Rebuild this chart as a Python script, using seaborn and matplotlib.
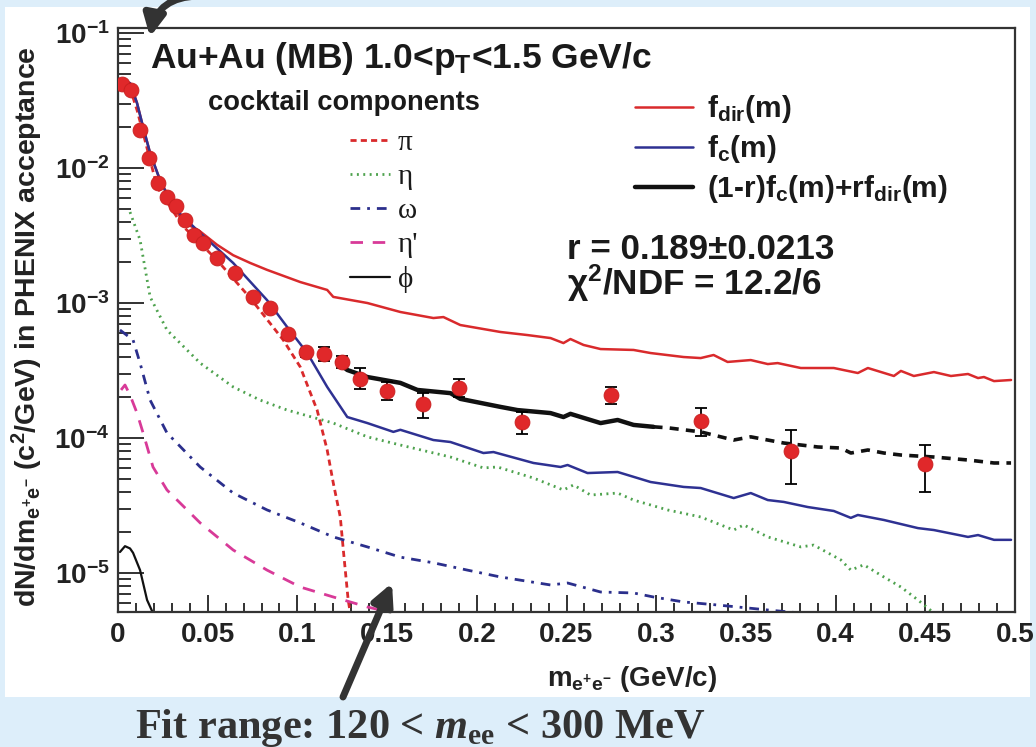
import numpy as np
import pandas as pd
import matplotlib
matplotlib.use("Agg")
import matplotlib.pyplot as plt
import seaborn as sns
from matplotlib.patches import Rectangle, FancyArrowPatch
from matplotlib.ticker import MultipleLocator, LogLocator, NullFormatter

# ---------------- data ----------------
data_m = [0.0025, 0.0075, 0.0125, 0.0175, 0.0225, 0.0275, 0.0325, 0.0375, 0.0425, 0.0475,
          0.055, 0.065, 0.075, 0.085, 0.095, 0.105, 0.115, 0.125, 0.135, 0.15,
          0.17, 0.19, 0.225, 0.275, 0.325, 0.375, 0.45]
data_y = [0.042, 0.038, 0.019, 0.0118, 0.0078, 0.0061, 0.0052, 0.0041, 0.0032, 0.0028,
          0.00216, 0.00167, 0.00111, 0.00092, 0.00059, 0.00043, 0.00042, 0.000365, 0.000274, 0.000223,
          0.000179, 0.000234, 0.000132, 0.000208, 0.000134, 0.000080, 0.000064]
data_err_lo = [0.0008, 0.0007, 0.0004, 0.00024, 0.00016, 0.00012, 0.0001, 0.00008, 0.00007, 0.00006,
               0.00005, 0.00004, 0.00003, 0.000025, 0.00002, 0.00003, 0.00005, 0.000035, 0.000043, 0.000032,
               0.000039, 0.000034, 0.000025, 0.00003, 0.00003, 0.000034, 0.000024]
data_err_hi = [0.0008, 0.0007, 0.0004, 0.00024, 0.00016, 0.00012, 0.0001, 0.00008, 0.00007, 0.00006,
               0.00005, 0.00004, 0.00003, 0.000025, 0.00002, 0.00003, 0.00005, 0.00004, 0.000056, 0.000038,
               0.000037, 0.000039, 0.000024, 0.000031, 0.000033, 0.000035, 0.000025]

fdir_m = [0.0028, 0.0067, 0.0106, 0.0140, 0.0179, 0.0234, 0.0307, 0.0363, 0.0458, 0.0552,
          0.0642, 0.0737, 0.0831, 0.1016, 0.1166, 0.1200, 0.1390, 0.1574, 0.1758, 0.1814,
          0.1908, 0.2132, 0.2282, 0.2411, 0.2483, 0.2522, 0.2595, 0.2690, 0.2874, 0.2969,
          0.3153, 0.3248, 0.3320, 0.3398, 0.3527, 0.3622, 0.3677, 0.3806, 0.3990, 0.4124,
          0.4180, 0.4325, 0.4364, 0.4436, 0.4548, 0.4643, 0.4738, 0.4794, 0.4827, 0.4883, 0.4978]
fdir_y = [0.0434, 0.0426, 0.0303, 0.0201, 0.0129, 0.00815, 0.0053, 0.0040, 0.00339, 0.00270,
          0.00226, 0.00198, 0.00176, 0.00143, 0.00125, 0.00111, 0.00100, 0.000858, 0.000774, 0.000787,
          0.000687, 0.000610, 0.000579, 0.000550, 0.000505, 0.000541, 0.000489, 0.000456, 0.000449, 0.000426,
          0.000398, 0.000391, 0.000412, 0.000366, 0.000378, 0.000353, 0.000359, 0.000330, 0.000330, 0.000303,
          0.000330, 0.000288, 0.000314, 0.000288, 0.000308, 0.000288, 0.000298, 0.000278, 0.000283, 0.000264, 0.000269]

fc_m = [0.0028, 0.0067, 0.0106, 0.0140, 0.0179, 0.0234, 0.0307, 0.0458, 0.0642, 0.0831,
        0.0943, 0.1055, 0.1166, 0.1278, 0.1390, 0.1535, 0.1574, 0.1758, 0.1853, 0.2037,
        0.2093, 0.2316, 0.2467, 0.2506, 0.2617, 0.2785, 0.2969, 0.3153, 0.3248, 0.3432,
        0.3527, 0.3622, 0.3711, 0.3845, 0.3990, 0.4085, 0.4124, 0.4269, 0.4459, 0.4548,
        0.4738, 0.4794, 0.4883, 0.4978]
fc_y = [0.0434, 0.0426, 0.0303, 0.0201, 0.0129, 0.00815, 0.00514, 0.00330, 0.00198, 0.00105,
        0.000664, 0.000426, 0.000239, 0.000143, 0.000129, 0.000111, 0.000115, 0.0000966, 0.0000934, 0.0000774,
        0.0000787, 0.0000653, 0.0000610, 0.0000631, 0.0000550, 0.0000560, 0.0000472, 0.0000434, 0.0000426, 0.0000359,
        0.0000391, 0.0000347, 0.0000336, 0.0000308, 0.0000288, 0.0000256, 0.0000269, 0.0000247, 0.0000215, 0.0000208,
        0.0000185, 0.0000191, 0.0000176, 0.0000176]

comb_fit_m = [0.1222, 0.1278, 0.1390, 0.1574, 0.1669, 0.1853, 0.1908, 0.2132, 0.2227, 0.2411,
              0.2483, 0.2522, 0.2595, 0.2690, 0.2785, 0.2874, 0.2985]
comb_fit_y = [0.000366, 0.000319, 0.000283, 0.000256, 0.000227, 0.000215, 0.000195, 0.000170, 0.000161, 0.000153,
              0.000143, 0.000151, 0.000141, 0.000129, 0.000136, 0.000125, 0.000121]
comb_ext_m = [0.2985, 0.3064, 0.3248, 0.3432, 0.3527, 0.3711, 0.3901, 0.4029, 0.4085, 0.4180,
              0.4269, 0.4364, 0.4548, 0.4738, 0.4883, 0.4978]
comb_ext_y = [0.000121, 0.000119, 0.000111, 0.0000966, 0.000102, 0.0000918, 0.0000858, 0.0000843, 0.0000774, 0.0000815,
              0.0000774, 0.0000748, 0.0000723, 0.0000687, 0.0000653, 0.0000653]

pi_m = [0.0022, 0.0067, 0.0106, 0.0140, 0.0179, 0.0218, 0.0363, 0.0552, 0.0737, 0.0921,
        0.1016, 0.1088, 0.1110, 0.1166, 0.1200, 0.1239, 0.1256, 0.1283, 0.1295, 0.1305]
pi_y = [0.0449, 0.0391, 0.0269, 0.01816, 0.01147, 0.00723, 0.0037, 0.00208, 0.00109, 0.000532,
        0.000336, 0.000191, 0.000161, 0.0000815, 0.0000464, 0.0000260, 0.0000148, 0.00000631, 0.00000505, 0.000002]

eta_m = [0.0067, 0.0123, 0.0179, 0.0273, 0.0458, 0.0642, 0.0792, 0.0943, 0.1200, 0.1390,
         0.1574, 0.1853, 0.2037, 0.2115, 0.2316, 0.2483, 0.2539, 0.2634, 0.2785, 0.2874,
         0.3064, 0.3248, 0.3432, 0.3488, 0.3622, 0.3806, 0.3878, 0.4029, 0.4085, 0.4157,
         0.4269, 0.4364, 0.4459, 0.4548, 0.4700]
eta_y = [0.00472, 0.00293, 0.00111, 0.000631, 0.000359, 0.000239, 0.000191, 0.000161, 0.000129, 0.000102,
         0.0000887, 0.0000723, 0.0000600, 0.0000610, 0.0000505, 0.0000412, 0.0000449, 0.0000378, 0.0000391, 0.0000347,
         0.0000293, 0.0000260, 0.0000208, 0.0000227, 0.0000185, 0.0000156, 0.0000161, 0.0000125, 0.0000105, 0.0000115,
         0.00000934, 0.00000787, 0.00000631, 0.00000505, 0.0000035]

omega_m = [0.0011, 0.0084, 0.0123, 0.0179, 0.0273, 0.0458, 0.0642, 0.0831, 0.1016, 0.1200,
           0.1390, 0.1574, 0.1758, 0.1948, 0.2132, 0.2411, 0.2506, 0.2690, 0.2874, 0.2985,
           0.3153, 0.3343, 0.3622, 0.3806, 0.4000]
omega_y = [0.000631, 0.000532, 0.000359, 0.000191, 0.000109, 0.0000610, 0.0000391, 0.0000293, 0.0000235, 0.0000185,
           0.0000156, 0.0000131, 0.0000119, 0.0000105, 0.00000934, 0.00000815, 0.00000843, 0.00000723, 0.00000711, 0.00000664,
           0.00000610, 0.00000579, 0.00000532, 0.00000505, 0.0000046]

etap_m = [0.0017, 0.0039, 0.0067, 0.0106, 0.0140, 0.0195, 0.0273, 0.0458, 0.0642, 0.0831,
          0.1016, 0.1200, 0.1390, 0.1535, 0.1600]
etap_y = [0.000227, 0.000247, 0.000208, 0.000153, 0.000109, 0.0000610, 0.0000412, 0.0000235, 0.0000148, 0.0000105,
          0.00000787, 0.00000664, 0.00000560, 0.00000505, 0.0000048]

phi_m = [0.0011, 0.0039, 0.0067, 0.0084, 0.0123, 0.0162, 0.0195, 0.0210]
phi_y = [0.0000143, 0.0000158, 0.0000152, 0.0000141, 0.0000105, 0.00000631, 0.00000505, 0.0000045]

xtick_vals = [0, 0.05, 0.1, 0.15, 0.2, 0.25, 0.3, 0.35, 0.4, 0.45, 0.5]
xtick_labels = ["0", "0.05", "0.1", "0.15", "0.2", "0.25", "0.3", "0.35", "0.4", "0.45", "0.5"]
ytick_vals = [1e-5, 1e-4, 1e-3, 1e-2, 1e-1]
ytick_labels = [r"$10^{-5}$", r"$10^{-4}$", r"$10^{-3}$", r"$10^{-2}$", r"$10^{-1}$"]

cocktail_labels = ["\u03c0", "\u03b7", "\u03c9", "\u03b7'", "\u03d5"]
fit_labels = [r"f$_{\mathrm{dir}}$(m)", r"f$_{\mathrm{c}}$(m)", r"(1-r)f$_{\mathrm{c}}$(m)+rf$_{\mathrm{dir}}$(m)"]

# ---------------- style ----------------
sns.set_theme(style="ticks")
plt.rcParams['font.family'] = ['Liberation Sans', 'DejaVu Sans']
plt.rcParams['font.weight'] = 'bold'
plt.rcParams['mathtext.fontset'] = 'custom'
plt.rcParams['mathtext.rm'] = 'Liberation Sans:bold'
plt.rcParams['mathtext.bf'] = 'Liberation Sans:bold'
plt.rcParams['mathtext.it'] = 'Liberation Serif:italic:bold'
plt.rcParams['mathtext.sf'] = 'Liberation Serif:bold'
plt.rcParams['mathtext.default'] = 'rm'

W, H = 1036, 747
fig = plt.figure(figsize=(W / 100, H / 100), dpi=100)
fig.patch.set_facecolor('#ddeefa')
fig.add_artist(Rectangle((5 / W, 1 - 697 / H), (1030 - 5) / W, (697 - 7) / H,
                         transform=fig.transFigure, facecolor='white', edgecolor='none', zorder=-5))

ax = fig.add_axes([118 / W, 1 - 612 / H, (1015 - 118) / W, (612 - 28) / H])
ax.set_facecolor('white')
ax.set_yscale('log')

RED = '#d92a2c'
BLUE = '#2e3192'
GREEN = '#4ea24e'
MAGENTA = '#d83a98'
NAVY = '#2b2f8c'
BLACK = '#111111'


def draw(x, y, **kw):
    sns.lineplot(x=x, y=y, ax=ax, sort=False, estimator=None, legend=False, **kw)
    return ax.lines[-1]


h_pi = draw(pi_m, pi_y, color=RED, lw=2.0, linestyle=(0, (2.2, 1.5)))
h_eta = draw(eta_m, eta_y, color=GREEN, lw=2.0, linestyle=(0, (0.7, 1.6)))
h_om = draw(omega_m, omega_y, color=NAVY, lw=2.0, linestyle=(0, (3.5, 2.5, 1, 2.5)))
h_etap = draw(etap_m, etap_y, color=MAGENTA, lw=2.0, linestyle=(0, (4.5, 3.5)))
h_phi = draw(phi_m, phi_y, color=BLACK, lw=1.6)
h_fdir = draw(fdir_m, fdir_y, color=RED, lw=1.8)
h_fc = draw(fc_m, fc_y, color=BLUE, lw=1.8)
h_comb = draw(comb_fit_m, comb_fit_y, color=BLACK, lw=3.2)
draw(comb_ext_m, comb_ext_y, color=BLACK, lw=2.6, linestyle=(0, (2.5, 2.0)))

ax.errorbar(data_m, data_y, yerr=[data_err_lo, data_err_hi], fmt='none', ecolor='black',
            elinewidth=1.3, capsize=4, capthick=1.3, zorder=4)
sns.scatterplot(x=data_m, y=data_y, ax=ax, color='#e0282a', s=115, edgecolor='#c81e1e',
                linewidth=0.6, zorder=5, legend=False)

# ---------------- axes ----------------
ax.set_xlim(0, 0.5)
ax.set_ylim(5.14e-6, 0.109)
ax.set_xticks(xtick_vals, labels=xtick_labels)
ax.xaxis.set_minor_locator(MultipleLocator(0.01))
ax.set_yticks(ytick_vals, labels=ytick_labels)
ax.yaxis.set_minor_locator(LogLocator(base=10, subs=np.arange(2, 10)))
ax.yaxis.set_minor_formatter(NullFormatter())

ax.tick_params(axis='x', which='major', direction='in', length=12, width=1.3, labelsize=20,
               pad=7, colors='#222222', top=False)
ax.tick_params(axis='x', which='minor', direction='in', length=6.5, width=1.3, colors='#222222', top=False)
ax.tick_params(axis='y', which='major', direction='in', length=19, width=1.3, labelsize=20,
               pad=6, colors='#222222', right=False)
ax.tick_params(axis='y', which='minor', direction='in', length=9.5, width=1.3, colors='#222222', right=False)
for sp in ax.spines.values():
    sp.set_visible(True)
    sp.set_linewidth(1.6)
    sp.set_color('#333333')

ax.set_xlabel(r"m$_{\mathrm{e^{+}e^{-}}}$ (GeV/c)", fontsize=20, fontweight='bold', color='#222222')
ax.xaxis.set_label_coords((632 - 118) / 897, -(664 - 612) / 584)
ax.set_ylabel(r"dN/dm$_{\mathrm{e^{+}e^{-}}}$ (c$^{2}$/GeV) in PHENIX acceptance", fontsize=20.5,
              fontweight='bold', color='#222222')
ax.yaxis.set_label_coords(-(118 - 45) / 897, (612 - 327) / 584)

# ---------------- texts ----------------
def fx(px):
    return px / W


def fy(py):
    return 1 - py / H


fig.text(fx(150), fy(68), r"Au+Au (MB) 1.0<p$_{\mathrm{T}}$<1.5 GeV/c", fontsize=25.5,
         fontweight='bold', color='#1a1a1a', va='baseline', ha='left')
fig.text(fx(208), fy(110), "cocktail components", fontsize=19.6, fontweight='bold',
         color='#1a1a1a', va='baseline', ha='left')
fig.text(fx(567), fy(259), "r = 0.189\u00b10.0213", fontsize=25.2, fontweight='bold',
         color='#1a1a1a', va='baseline', ha='left')
fig.text(fx(567), fy(295), r"$\chi^{2}$/NDF = 12.2/6", fontsize=25.2, fontweight='bold',
         color='#1a1a1a', va='baseline', ha='left')

leg1 = ax.legend(handles=[h_pi, h_eta, h_om, h_etap, h_phi], labels=cocktail_labels,
                 loc='upper left', bbox_to_anchor=(fx(350), fy(130)), bbox_transform=fig.transFigure,
                 frameon=False,
                 prop={'family': ['Liberation Serif', 'DejaVu Serif'], 'weight': 'normal', 'size': 21},
                 handlelength=1.37, handletextpad=0.27, labelspacing=0.26, borderpad=0,
                 borderaxespad=0, labelcolor='#1a1a1a')
ax.add_artist(leg1)
leg2 = ax.legend(handles=[h_fdir, h_fc, h_comb], labels=fit_labels,
                 loc='upper left', bbox_to_anchor=(fx(635), fy(93)), bbox_transform=fig.transFigure,
                 frameon=False, prop={'family': 'Liberation Sans', 'weight': 'bold', 'size': 21.5},
                 handlelength=1.95, handletextpad=0.47, labelspacing=0.27, borderpad=0,
                 borderaxespad=0, labelcolor='#1a1a1a')

# bottom annotation and arrows (slide overlay)
fig.text(fx(135), fy(738), r"Fit range: 120 < $\mathit{m}_{\mathsf{ee}}$ < 300 MeV",
         fontsize=30.5, fontweight='bold', family='Liberation Serif', color='#333333',
         va='baseline', ha='left')
fig.add_artist(FancyArrowPatch((fx(343), fy(697)), (fx(392), fy(583)), transform=fig.transFigure,
                               arrowstyle='-|>', mutation_scale=32, lw=5, color='#333333',
                               shrinkA=0, shrinkB=0, zorder=10))
fig.add_artist(FancyArrowPatch((fx(198), fy(-4)), (fx(150), fy(37)), transform=fig.transFigure,
                               arrowstyle='-|>', mutation_scale=32, lw=5, color='#333333',
                               connectionstyle='arc3,rad=0.4', shrinkA=0, shrinkB=0, zorder=10))

fig.savefig('out.png', dpi=100)
